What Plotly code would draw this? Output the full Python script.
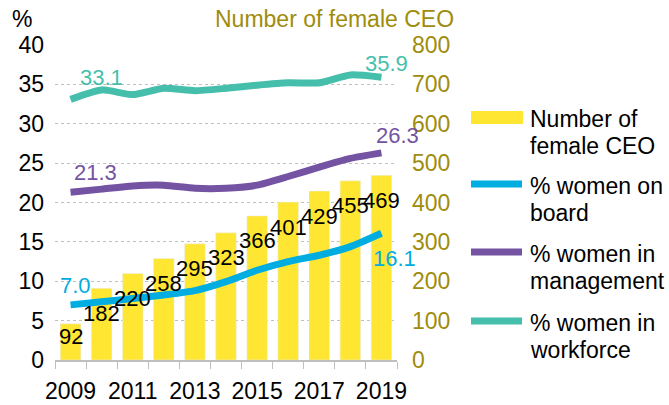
import plotly.graph_objects as go

years = [2009, 2010, 2011, 2012, 2013, 2014, 2015, 2016, 2017, 2018, 2019]
female_ceo = [92, 182, 220, 258, 295, 323, 366, 401, 429, 455, 469]
women_board = [7.0, 7.4, 7.8, 8.25, 8.8, 9.95, 11.4, 12.5, 13.3, 14.4, 16.1]
women_mgmt = [21.3, 21.7, 22.1, 22.2, 21.8, 21.8, 22.2, 23.3, 24.5, 25.6, 26.3]
women_workforce = [33.1, 34.3, 33.7, 34.5, 34.2, 34.5, 34.9, 35.2, 35.2, 36.2, 35.9]
x_ticks = [2009, 2011, 2013, 2015, 2017, 2019]

FONT = "Liberation Sans, Arial, sans-serif"
YELLOW = "#FFE633"
BLUE = "#00ADE0"
PURPLE = "#7553A3"
TEAL = "#45BFAB"
OLIVE = "#A08C0C"

# plot-area geometry in pixels (used for the hand-placed titles and legend)
W, H = 669, 405
ML, MR, MT, MB = 55, 272, 45, 45
PW, PH = W - ML - MR, H - MT - MB


def px_x(x):
    return (x - ML) / PW


def px_y(y):
    return (H - MB - y) / PH


fig = go.Figure()

# bars sit on the primary (right-hand) axis so the percentage lines draw on top
fig.add_trace(go.Bar(
    x=years, y=female_ceo, yaxis="y", marker_color=YELLOW,
    width=0.66, name="Number of female CEO",
))

line_series = [
    (women_board, BLUE, "% women on board"),
    (women_mgmt, PURPLE, "% women in management"),
    (women_workforce, TEAL, "% women in workforce"),
]
for vals, color, name in line_series:
    fig.add_trace(go.Scatter(
        x=years, y=vals, yaxis="y2", mode="lines", name=name,
        line=dict(color=color, width=7, shape="spline", smoothing=0.6),
    ))

annotations = []
# value labels on the bars
for i, (yr, v) in enumerate(zip(years, female_ceo)):
    annotations.append(dict(
        x=yr, y=v, xref="x", yref="y", text=str(v), showarrow=False,
        font=dict(size=22, color="black", family=FONT),
        yshift=-13 if i == 0 else -25,
    ))

# first/last value labels on the lines
end_labels = [
    (women_board, BLUE, (5, 19), (13, -25)),
    (women_mgmt, PURPLE, (25, 20), (16, 17)),
    (women_workforce, TEAL, (31, 22), (5, 14)),
]
for vals, color, first_shift, last_shift in end_labels:
    for idx, (xs, ys) in ((0, first_shift), (-1, last_shift)):
        annotations.append(dict(
            x=years[idx], y=vals[idx], xref="x", yref="y2",
            text=f"{vals[idx]:.1f}", showarrow=False,
            font=dict(size=22, color=color, family=FONT),
            xshift=xs, yshift=ys,
        ))

# axis titles
annotations.append(dict(
    x=px_x(22), y=px_y(19), xref="paper", yref="paper", text="%", showarrow=False,
    xanchor="center", yanchor="middle",
    font=dict(size=23, color="black", family=FONT),
))
annotations.append(dict(
    x=px_x(334), y=px_y(19), xref="paper", yref="paper", text="Number of female CEO",
    showarrow=False, xanchor="center", yanchor="middle",
    font=dict(size=23, color=OLIVE, family=FONT),
))

# legend on the right, drawn with shapes and text
legend_items = [
    ("bar", YELLOW, ["Number of", "female CEO"], 117),
    ("line", BLUE, ["% women on", "board"], 184),
    ("line", PURPLE, ["% women in", "management"], 252),
    ("line", TEAL, ["% women in", "workforce"], 321),
]
shapes = []
for kind, color, rows, yc in legend_items:
    if kind == "bar":
        shapes.append(dict(type="rect", xref="paper", yref="paper",
                           x0=px_x(471), x1=px_x(523), y0=px_y(124), y1=px_y(111),
                           fillcolor=color, line=dict(width=0)))
    else:
        shapes.append(dict(type="line", xref="paper", yref="paper",
                           x0=px_x(471), x1=px_x(522), y0=px_y(yc), y1=px_y(yc),
                           line=dict(color=color, width=7)))
    for r, row in enumerate(rows):
        annotations.append(dict(
            x=px_x(528), y=px_y(yc + 2 + 27 * r), xref="paper", yref="paper",
            text=row, showarrow=False, xanchor="left", yanchor="middle", align="left",
            font=dict(size=23, color="black", family=FONT),
        ))

fig.update_layout(
    width=W, height=H,
    margin=dict(l=ML, r=MR, t=MT, b=MB, autoexpand=False),
    plot_bgcolor="white", paper_bgcolor="white",
    font=dict(family=FONT, size=23, color="black"),
    showlegend=False,
    xaxis=dict(
        range=[2008.5, 2019.5], tickvals=x_ticks, ticktext=[str(t) for t in x_ticks],
        showgrid=False, zeroline=False, showline=True, linecolor="#BFBFBF", linewidth=1.5,
        ticks="", ticklabelstandoff=10, automargin=False,
        minor=dict(tickvals=[y - 0.5 for y in years] + [2019.5], ticks="outside",
                   ticklen=7, tickcolor="#BFBFBF", showgrid=False),
        tickfont=dict(size=23, color="black"),
    ),
    yaxis=dict(
        range=[0, 800], dtick=100, side="right", showgrid=True, gridcolor="#BFBFBF",
        griddash="dot", gridwidth=1, zeroline=False, showline=False, ticks="",
        ticklabelstandoff=14, automargin=False, tickfont=dict(size=23, color=OLIVE),
    ),
    yaxis2=dict(
        range=[0, 40], dtick=5, overlaying="y", side="left", showgrid=False,
        zeroline=False, showline=False, ticks="", ticklabelstandoff=10,
        automargin=False, tickfont=dict(size=23, color="black"),
    ),
    annotations=annotations,
    shapes=shapes,
)

fig.write_html("out.html")
